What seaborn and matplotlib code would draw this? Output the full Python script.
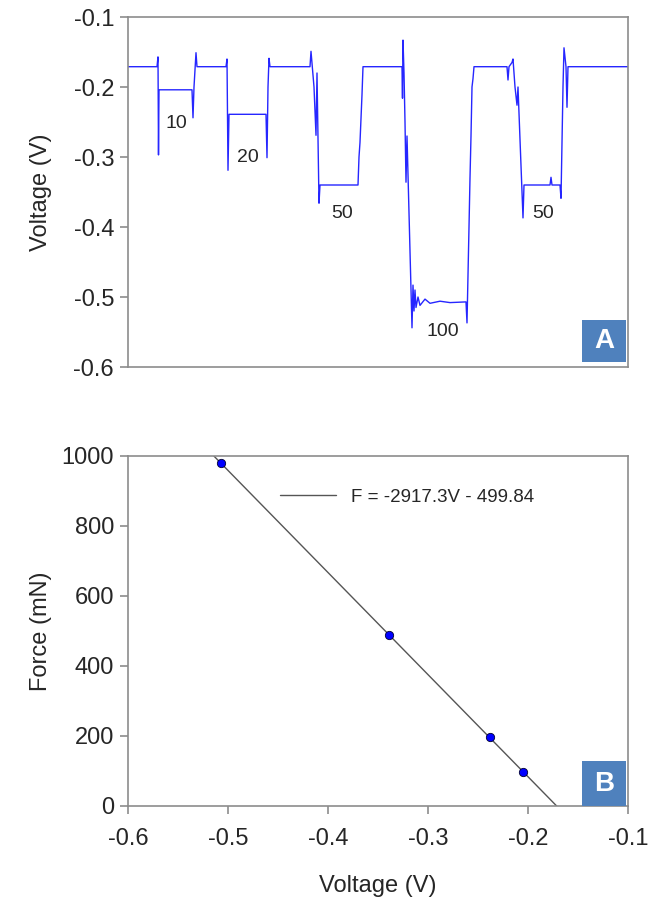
import numpy as np
import pandas as pd
import matplotlib
matplotlib.use("Agg")
import matplotlib.pyplot as plt
import seaborn as sns
from matplotlib.patches import Rectangle

# ---------------- data ----------------
# Panel A: voltage trace (time in arbitrary units, voltage in V)
trace_t = [0, 29, 30, 30.5, 31, 64, 65, 66, 68, 69,
           98, 99, 100, 101, 138, 139, 140, 141, 142,
           182, 183, 186, 188, 189, 191, 192, 230, 231, 232, 234, 235,
           274, 274.5, 275, 276, 277, 278, 279, 284, 285, 286, 287, 288, 290, 292, 297,
           302, 312, 322, 338, 339, 341, 342, 343, 344, 345, 346,
           379, 380, 381, 384, 385, 387, 389, 390, 395, 396, 422, 423, 424, 432, 433,
           435, 436, 438, 439, 440, 500]
trace_v = [-0.171, -0.171, -0.157, -0.297, -0.204, -0.204, -0.244, -0.200, -0.151, -0.171,
           -0.171, -0.160, -0.319, -0.239, -0.239, -0.301, -0.200, -0.159, -0.171,
           -0.171, -0.149, -0.200, -0.269, -0.180, -0.366, -0.340, -0.340, -0.300, -0.279, -0.211, -0.171,
           -0.171, -0.216, -0.133, -0.180, -0.250, -0.336, -0.270, -0.544, -0.483, -0.520, -0.490, -0.515, -0.500, -0.512, -0.503,
           -0.509, -0.506, -0.508, -0.507, -0.537, -0.400, -0.330, -0.270, -0.200, -0.188, -0.171,
           -0.171, -0.190, -0.171, -0.165, -0.160, -0.200, -0.226, -0.200, -0.387, -0.340, -0.340, -0.329, -0.340, -0.340, -0.359,
           -0.200, -0.144, -0.171, -0.229, -0.171, -0.171]

load_labels = ["10", "20", "50", "100", "50"]
load_label_t = [48, 120, 214, 315, 415]
load_label_v = [-0.252, -0.300, -0.381, -0.550, -0.381]

# Panel B: calibration
force_mN = [98, 196, 490, 980]
voltage_V = [-0.205, -0.238, -0.339, -0.507]
fit_slope = -2917.3
fit_intercept = -499.84
fit_label = "F = -2917.3V - 499.84"

# ---------------- style ----------------
sns.set_style("white")
plt.rcParams["font.family"] = ["Liberation Sans", "DejaVu Sans"]
spine_col = "#8c8c8c"
text_col = "#262626"
box_col = "#4f81bd"

fig = plt.figure(figsize=(6.48, 9.01), dpi=100)
axA = fig.add_axes([128/648, 1-367/901, 500/648, 350/901])
axB = fig.add_axes([128/648, 1-806/901, 500/648, 350/901])

# ---- Panel A ----
dfA = pd.DataFrame({"t": trace_t, "v": trace_v})
sns.lineplot(data=dfA, x="t", y="v", ax=axA, sort=False, estimator=None,
             color="#2626ff", linewidth=1.0)
axA.set_xlim(0, 500)
axA.set_ylim(-0.6, -0.1)
axA.set_yticks([-0.6, -0.5, -0.4, -0.3, -0.2, -0.1])
axA.set_yticklabels(["-0.6", "-0.5", "-0.4", "-0.3", "-0.2", "-0.1"])
axA.set_xticks([])
axA.set_xlabel("")
axA.set_ylabel("Voltage (V)", fontsize=17, color=text_col)
axA.yaxis.set_label_coords(-0.152, 0.5)
for lab, t, v in zip(load_labels, load_label_t, load_label_v):
    axA.text(t, v, lab, fontsize=14, color=text_col, ha="center", va="center")
axA.add_patch(Rectangle((0.908, 0.014), 0.088, 0.12, transform=axA.transAxes,
                        facecolor=box_col, edgecolor="none", zorder=5))
axA.text(0.952, 0.074, "A", transform=axA.transAxes, fontsize=20, color="white",
         ha="center", va="center", fontweight="bold", zorder=6)

# ---- Panel B ----
dfB = pd.DataFrame({"V": voltage_V, "F": force_mN})
fitF = np.array([0.0, 1000.0])
fitV = (fitF - fit_intercept) / fit_slope
dfFit = pd.DataFrame({"V": fitV, "F": fitF})
sns.lineplot(data=dfFit, x="V", y="F", ax=axB, color="#555555", linewidth=1.0,
             label=fit_label, sort=False, estimator=None)
sns.scatterplot(data=dfB, x="V", y="F", ax=axB, color="#0000ff", edgecolor="#000033",
                s=36, linewidth=0.6, zorder=4, legend=False)
axB.set_xlim(-0.6, -0.1)
axB.set_ylim(0, 1000)
axB.set_xticks([-0.6, -0.5, -0.4, -0.3, -0.2, -0.1])
axB.set_xticklabels(["-0.6", "-0.5", "-0.4", "-0.3", "-0.2", "-0.1"])
axB.set_yticks([0, 200, 400, 600, 800, 1000])
axB.set_xlabel("Voltage (V)", fontsize=17, color=text_col)
axB.xaxis.set_label_coords(0.5, -0.197)
axB.set_ylabel("Force (mN)", fontsize=17, color=text_col)
axB.yaxis.set_label_coords(-0.152, 0.5)
leg = axB.legend(loc="upper left", bbox_to_anchor=(0.27, 0.955), frameon=False,
                 fontsize=13.5, handlelength=3.0, handletextpad=0.8)
for t in leg.get_texts():
    t.set_color(text_col)
axB.add_patch(Rectangle((0.908, 0.0), 0.088, 0.129, transform=axB.transAxes,
                        facecolor=box_col, edgecolor="none", zorder=5))
axB.text(0.952, 0.064, "B", transform=axB.transAxes, fontsize=20, color="white",
         ha="center", va="center", fontweight="bold", zorder=6)

for ax in (axA, axB):
    for s in ax.spines.values():
        s.set_visible(True)
        s.set_color(spine_col)
        s.set_linewidth(1.2)
    ax.tick_params(axis="both", direction="out", length=6, width=1.2, color=spine_col,
                   labelsize=17, labelcolor=text_col, pad=4)
    ax.tick_params(axis="x", pad=10)
axA.tick_params(axis="y", left=True)
axB.tick_params(left=True, bottom=True)

fig.savefig("out.png", dpi=100)
